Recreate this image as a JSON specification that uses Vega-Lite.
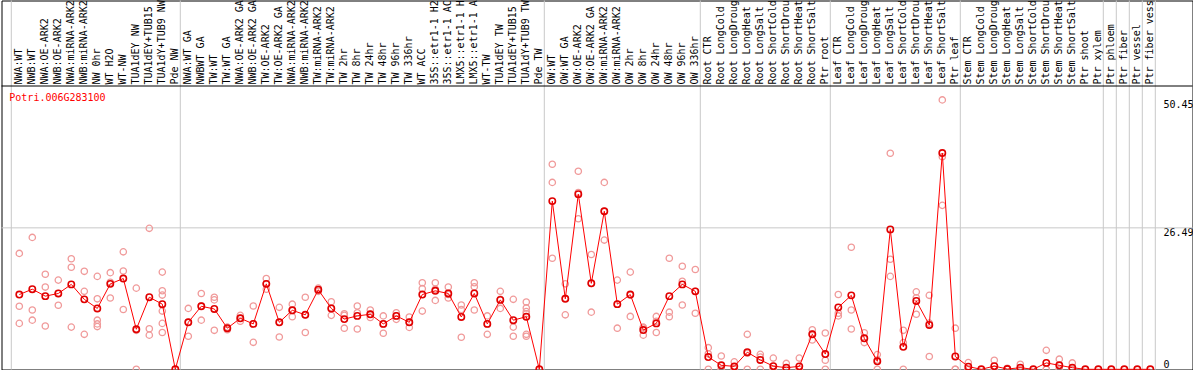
{
  "$schema": "https://vega.github.io/schema/vega-lite/v6.json",
  "width": 1191,
  "height": 369,
  "autosize": {"type": "none"},
  "padding": {"left": 1.5, "top": 0.5, "right": 0, "bottom": 0},
  "background": "white",
  "config": {"view": {"stroke": "black", "strokeWidth": 1}, "font": "DejaVu Sans Mono"},
  "title": {"text": "Potri.006G283100", "frame": "group", "anchor": "start", "orient": "top", "offset": -129.5, "dx": 7.8, "baseline": "alphabetic", "color": "#ff0000", "font": "DejaVu Sans Mono", "fontSize": 10, "fontWeight": "normal"},
  "datasets": {
    "groupEnds": [{"cat": "Pde NW"}, {"cat": "Pde TW"}, {"cat": "OW 336hr"}, {"cat": "Ptr root"}, {"cat": "Ptr leaf"}, {"cat": "Ptr xylem"}, {"cat": "Ptr phloem"}, {"cat": "Ptr fiber"}, {"cat": "Ptr vessel"}, {"cat": "Ptr fiber vessel"}],
    "groupStart": [{"cat": "NWA:WT"}],
    "means": [
      {"i": 1, "cat": "NWA:WT", "value": 14.0},
      {"i": 2, "cat": "NWB:WT", "value": 15.0},
      {"i": 3, "cat": "NWA:OE-ARK2", "value": 13.7},
      {"i": 4, "cat": "NWB:OE-ARK2", "value": 14.2},
      {"i": 5, "cat": "NWA:miRNA-ARK2", "value": 15.9},
      {"i": 6, "cat": "NWB:miRNA-ARK2", "value": 13.1},
      {"i": 7, "cat": "NW 0hr", "value": 11.4},
      {"i": 8, "cat": "WT H2O", "value": 16.0},
      {"i": 9, "cat": "WT-NW", "value": 17.0},
      {"i": 10, "cat": "TUA1dEY NW", "value": 7.5},
      {"i": 11, "cat": "TUA1dEY+TUB15 NW", "value": 13.5},
      {"i": 12, "cat": "TUA1dY+TUB9 NW", "value": 12.2},
      {"i": 13, "cat": "Pde NW", "value": 0},
      {"i": 14, "cat": "NWA:WT GA", "value": 8.8},
      {"i": 15, "cat": "NWBWT GA", "value": 11.8},
      {"i": 16, "cat": "TW:WT", "value": 11.3},
      {"i": 17, "cat": "TW:WT GA", "value": 7.7},
      {"i": 18, "cat": "NWA:OE-ARK2 GA", "value": 9.55},
      {"i": 19, "cat": "NWB:OE-ARK2 GA", "value": 8.5},
      {"i": 20, "cat": "TW:OE-ARK2", "value": 16.0},
      {"i": 21, "cat": "TW:OE-ARK2 GA", "value": 8.8},
      {"i": 22, "cat": "NWA:miRNA-ARK2 GA", "value": 11.05},
      {"i": 23, "cat": "NWB:miRNA-ARK2 GA", "value": 10.2},
      {"i": 24, "cat": "TW:miRNA-ARK2", "value": 14.9},
      {"i": 25, "cat": "TW:miRNA-ARK2 GA", "value": 11.4},
      {"i": 26, "cat": "TW 2hr", "value": 9.4},
      {"i": 27, "cat": "TW 8hr", "value": 10.0},
      {"i": 28, "cat": "TW 24hr", "value": 10.3},
      {"i": 29, "cat": "TW 48hr", "value": 8.5},
      {"i": 30, "cat": "TW 96hr", "value": 10.0},
      {"i": 31, "cat": "TW 336hr", "value": 8.8},
      {"i": 32, "cat": "WT ACC", "value": 14.0},
      {"i": 33, "cat": "35S::etr1-1 H2", "value": 14.7},
      {"i": 34, "cat": "35S::etr1-1 AC", "value": 14.2},
      {"i": 35, "cat": "LMX5::etr1-1 H", "value": 9.8},
      {"i": 36, "cat": "LMX5::etr1-1 A", "value": 14.2},
      {"i": 37, "cat": "WT-TW", "value": 8.5},
      {"i": 38, "cat": "TUA1dEY TW", "value": 13.0},
      {"i": 39, "cat": "TUA1dEY+TUB15 TW", "value": 9.2},
      {"i": 40, "cat": "TUA1dY+TUB9 TW", "value": 9.85},
      {"i": 41, "cat": "Pde TW", "value": 0},
      {"i": 42, "cat": "OW:WT", "value": 31.5},
      {"i": 43, "cat": "OW:WT GA", "value": 13.2},
      {"i": 44, "cat": "OW:OE-ARK2", "value": 32.8},
      {"i": 45, "cat": "OW:OE-ARK2 GA", "value": 16.1},
      {"i": 46, "cat": "OW:miRNA-ARK2", "value": 29.6},
      {"i": 47, "cat": "OW:miRNA-ARK2 GA", "value": 12.2},
      {"i": 48, "cat": "OW 2hr", "value": 14.0},
      {"i": 49, "cat": "OW 8hr", "value": 7.35},
      {"i": 50, "cat": "OW 24hr", "value": 8.6},
      {"i": 51, "cat": "OW 48hr", "value": 13.7},
      {"i": 52, "cat": "OW 96hr", "value": 15.9},
      {"i": 53, "cat": "OW 336hr", "value": 14.6},
      {"i": 54, "cat": "Root CTR", "value": 2.3},
      {"i": 55, "cat": "Root LongCold", "value": 0.75},
      {"i": 56, "cat": "Root LongDroug", "value": 0.55},
      {"i": 57, "cat": "Root LongHeat", "value": 3.2},
      {"i": 58, "cat": "Root LongSalt", "value": 1.75},
      {"i": 59, "cat": "Root ShortCold", "value": 0.6},
      {"i": 60, "cat": "Root ShortDrou", "value": 0.3},
      {"i": 61, "cat": "Root ShortHeat", "value": 0.55},
      {"i": 62, "cat": "Root ShortSalt", "value": 6.55},
      {"i": 63, "cat": "Ptr root", "value": 2.85},
      {"i": 64, "cat": "Leaf CTR", "value": 11.6},
      {"i": 65, "cat": "Leaf LongCold", "value": 13.85},
      {"i": 66, "cat": "Leaf LongDroug", "value": 5.8},
      {"i": 67, "cat": "Leaf LongHeat", "value": 1.5},
      {"i": 68, "cat": "Leaf LongSalt", "value": 26.2},
      {"i": 69, "cat": "Leaf ShortCold", "value": 4.2},
      {"i": 70, "cat": "Leaf ShortDrou", "value": 12.8},
      {"i": 71, "cat": "Leaf ShortHeat", "value": 8.3},
      {"i": 72, "cat": "Leaf ShortSalt", "value": 40.5},
      {"i": 73, "cat": "Ptr leaf", "value": 2.4},
      {"i": 74, "cat": "Stem CTR", "value": 0.5},
      {"i": 75, "cat": "Stem LongCold", "value": 0},
      {"i": 76, "cat": "Stem LongDroug", "value": 0.6},
      {"i": 77, "cat": "Stem LongHeat", "value": 0.05},
      {"i": 78, "cat": "Stem LongSalt", "value": 0.3},
      {"i": 79, "cat": "Stem ShortCold", "value": 0},
      {"i": 80, "cat": "Stem ShortDrou", "value": 1.2},
      {"i": 81, "cat": "Stem ShortHeat", "value": 0.75},
      {"i": 82, "cat": "Stem ShortSalt", "value": 0.3},
      {"i": 83, "cat": "Ptr shoot", "value": 0},
      {"i": 84, "cat": "Ptr xylem", "value": 0},
      {"i": 85, "cat": "Ptr phloem", "value": 0},
      {"i": 86, "cat": "Ptr fiber", "value": 0},
      {"i": 87, "cat": "Ptr vessel", "value": 0},
      {"i": 88, "cat": "Ptr fiber vessel", "value": 0}
    ],
    "reps": [
      {"cat": "NWA:WT", "value": 21.7}, {"cat": "NWA:WT", "value": 11.8}, {"cat": "NWA:WT", "value": 8.6},
      {"cat": "NWB:WT", "value": 24.7}, {"cat": "NWB:WT", "value": 11.1}, {"cat": "NWB:WT", "value": 9.2},
      {"cat": "NWA:OE-ARK2", "value": 17.8}, {"cat": "NWA:OE-ARK2", "value": 15.4}, {"cat": "NWA:OE-ARK2", "value": 8.1},
      {"cat": "NWB:OE-ARK2", "value": 16.7}, {"cat": "NWB:OE-ARK2", "value": 12.0}, {"cat": "NWB:OE-ARK2", "value": 14.2},
      {"cat": "NWA:miRNA-ARK2", "value": 20.7}, {"cat": "NWA:miRNA-ARK2", "value": 19.1}, {"cat": "NWA:miRNA-ARK2", "value": 7.9},
      {"cat": "NWB:miRNA-ARK2", "value": 18.35}, {"cat": "NWB:miRNA-ARK2", "value": 14.6}, {"cat": "NWB:miRNA-ARK2", "value": 6.55},
      {"cat": "NW 0hr", "value": 17.4}, {"cat": "NW 0hr", "value": 13.2}, {"cat": "NW 0hr", "value": 9.2}, {"cat": "NW 0hr", "value": 8.5}, {"cat": "NW 0hr", "value": 8.0},
      {"cat": "WT H2O", "value": 18.1}, {"cat": "WT H2O", "value": 16.3}, {"cat": "WT H2O", "value": 13.35},
      {"cat": "WT-NW", "value": 22.0}, {"cat": "WT-NW", "value": 18.4}, {"cat": "WT-NW", "value": 11.2},
      {"cat": "TUA1dEY NW", "value": 15.2}, {"cat": "TUA1dEY NW", "value": 7.3}, {"cat": "TUA1dEY NW", "value": 0},
      {"cat": "TUA1dEY+TUB15 NW", "value": 26.4}, {"cat": "TUA1dEY+TUB15 NW", "value": 7.6}, {"cat": "TUA1dEY+TUB15 NW", "value": 6.4},
      {"cat": "TUA1dY+TUB9 NW", "value": 18.2}, {"cat": "TUA1dY+TUB9 NW", "value": 14.7}, {"cat": "TUA1dY+TUB9 NW", "value": 13.9}, {"cat": "TUA1dY+TUB9 NW", "value": 10.9}, {"cat": "TUA1dY+TUB9 NW", "value": 8.6}, {"cat": "TUA1dY+TUB9 NW", "value": 6.9},
      {"cat": "NWA:WT GA", "value": 11.4}, {"cat": "NWA:WT GA", "value": 8.8}, {"cat": "NWA:WT GA", "value": 6.2},
      {"cat": "NWBWT GA", "value": 14.2}, {"cat": "NWBWT GA", "value": 11.9}, {"cat": "NWBWT GA", "value": 9.2},
      {"cat": "TW:WT", "value": 13.5}, {"cat": "TW:WT", "value": 13.0}, {"cat": "TW:WT", "value": 7.3},
      {"cat": "TW:WT GA", "value": 7.9}, {"cat": "TW:WT GA", "value": 7.7}, {"cat": "TW:WT GA", "value": 7.4},
      {"cat": "NWA:OE-ARK2 GA", "value": 10.1}, {"cat": "NWA:OE-ARK2 GA", "value": 9.55}, {"cat": "NWA:OE-ARK2 GA", "value": 9.0},
      {"cat": "NWB:OE-ARK2 GA", "value": 11.85}, {"cat": "NWB:OE-ARK2 GA", "value": 8.5}, {"cat": "NWB:OE-ARK2 GA", "value": 5.05},
      {"cat": "TW:OE-ARK2", "value": 17.0}, {"cat": "TW:OE-ARK2", "value": 16.0}, {"cat": "TW:OE-ARK2", "value": 15.0},
      {"cat": "TW:OE-ARK2 GA", "value": 11.6}, {"cat": "TW:OE-ARK2 GA", "value": 8.8}, {"cat": "TW:OE-ARK2 GA", "value": 6.05},
      {"cat": "NWA:miRNA-ARK2 GA", "value": 12.2}, {"cat": "NWA:miRNA-ARK2 GA", "value": 11.05}, {"cat": "NWA:miRNA-ARK2 GA", "value": 9.85},
      {"cat": "NWB:miRNA-ARK2 GA", "value": 13.5}, {"cat": "NWB:miRNA-ARK2 GA", "value": 10.2}, {"cat": "NWB:miRNA-ARK2 GA", "value": 6.9},
      {"cat": "TW:miRNA-ARK2", "value": 15.2}, {"cat": "TW:miRNA-ARK2", "value": 14.9}, {"cat": "TW:miRNA-ARK2", "value": 14.6},
      {"cat": "TW:miRNA-ARK2 GA", "value": 12.65}, {"cat": "TW:miRNA-ARK2 GA", "value": 11.4}, {"cat": "TW:miRNA-ARK2 GA", "value": 10.1},
      {"cat": "TW 2hr", "value": 10.4}, {"cat": "TW 2hr", "value": 10.1}, {"cat": "TW 2hr", "value": 7.7},
      {"cat": "TW 8hr", "value": 11.85}, {"cat": "TW 8hr", "value": 10.6}, {"cat": "TW 8hr", "value": 7.55},
      {"cat": "TW 24hr", "value": 11.1}, {"cat": "TW 24hr", "value": 10.3}, {"cat": "TW 24hr", "value": 9.7},
      {"cat": "TW 48hr", "value": 10.0}, {"cat": "TW 48hr", "value": 8.5}, {"cat": "TW 48hr", "value": 6.75},
      {"cat": "TW 96hr", "value": 10.6}, {"cat": "TW 96hr", "value": 10.0}, {"cat": "TW 96hr", "value": 9.35},
      {"cat": "TW 336hr", "value": 9.8}, {"cat": "TW 336hr", "value": 8.8}, {"cat": "TW 336hr", "value": 7.85},
      {"cat": "WT ACC", "value": 16.2}, {"cat": "WT ACC", "value": 15.1}, {"cat": "WT ACC", "value": 10.9},
      {"cat": "35S::etr1-1 H2", "value": 16.2}, {"cat": "35S::etr1-1 H2", "value": 15.0}, {"cat": "35S::etr1-1 H2", "value": 12.9},
      {"cat": "35S::etr1-1 AC", "value": 15.4}, {"cat": "35S::etr1-1 AC", "value": 14.0}, {"cat": "35S::etr1-1 AC", "value": 13.35},
      {"cat": "LMX5::etr1-1 H", "value": 12.05}, {"cat": "LMX5::etr1-1 H", "value": 11.2}, {"cat": "LMX5::etr1-1 H", "value": 6.0},
      {"cat": "LMX5::etr1-1 A", "value": 16.2}, {"cat": "LMX5::etr1-1 A", "value": 15.45}, {"cat": "LMX5::etr1-1 A", "value": 11.1},
      {"cat": "WT-TW", "value": 10.0}, {"cat": "WT-TW", "value": 8.5}, {"cat": "WT-TW", "value": 6.55},
      {"cat": "TUA1dEY TW", "value": 14.6}, {"cat": "TUA1dEY TW", "value": 13.1}, {"cat": "TUA1dEY TW", "value": 11.4},
      {"cat": "TUA1dEY+TUB15 TW", "value": 13.1}, {"cat": "TUA1dEY+TUB15 TW", "value": 7.9}, {"cat": "TUA1dEY+TUB15 TW", "value": 6.2},
      {"cat": "TUA1dY+TUB9 TW", "value": 12.6}, {"cat": "TUA1dY+TUB9 TW", "value": 11.5}, {"cat": "TUA1dY+TUB9 TW", "value": 10.8}, {"cat": "TUA1dY+TUB9 TW", "value": 10.4}, {"cat": "TUA1dY+TUB9 TW", "value": 6.55}, {"cat": "TUA1dY+TUB9 TW", "value": 6.2},
      {"cat": "OW:WT", "value": 38.4}, {"cat": "OW:WT", "value": 35.0}, {"cat": "OW:WT", "value": 20.8},
      {"cat": "OW:WT GA", "value": 16.0}, {"cat": "OW:WT GA", "value": 13.3}, {"cat": "OW:WT GA", "value": 10.2},
      {"cat": "OW:OE-ARK2", "value": 37.1}, {"cat": "OW:OE-ARK2", "value": 33.1}, {"cat": "OW:OE-ARK2", "value": 28.2},
      {"cat": "OW:OE-ARK2 GA", "value": 21.5}, {"cat": "OW:OE-ARK2 GA", "value": 16.1}, {"cat": "OW:OE-ARK2 GA", "value": 10.7},
      {"cat": "OW:miRNA-ARK2", "value": 35.0}, {"cat": "OW:miRNA-ARK2", "value": 29.6}, {"cat": "OW:miRNA-ARK2", "value": 24.2},
      {"cat": "OW:miRNA-ARK2 GA", "value": 16.7}, {"cat": "OW:miRNA-ARK2 GA", "value": 12.2}, {"cat": "OW:miRNA-ARK2 GA", "value": 7.7},
      {"cat": "OW 2hr", "value": 18.2}, {"cat": "OW 2hr", "value": 13.9}, {"cat": "OW 2hr", "value": 9.9},
      {"cat": "OW 8hr", "value": 7.9}, {"cat": "OW 8hr", "value": 7.75}, {"cat": "OW 8hr", "value": 6.4},
      {"cat": "OW 24hr", "value": 9.9}, {"cat": "OW 24hr", "value": 9.0}, {"cat": "OW 24hr", "value": 6.9},
      {"cat": "OW 48hr", "value": 20.8}, {"cat": "OW 48hr", "value": 10.7}, {"cat": "OW 48hr", "value": 9.85},
      {"cat": "OW 96hr", "value": 19.3}, {"cat": "OW 96hr", "value": 16.5}, {"cat": "OW 96hr", "value": 12.05},
      {"cat": "OW 336hr", "value": 18.7}, {"cat": "OW 336hr", "value": 14.6}, {"cat": "OW 336hr", "value": 10.5},
      {"cat": "Root CTR", "value": 4.05}, {"cat": "Root CTR", "value": 2.9}, {"cat": "Root CTR", "value": 0},
      {"cat": "Root LongCold", "value": 2.5}, {"cat": "Root LongCold", "value": 0}, {"cat": "Root LongCold", "value": 0},
      {"cat": "Root LongDroug", "value": 1.4}, {"cat": "Root LongDroug", "value": 0.2}, {"cat": "Root LongDroug", "value": 0},
      {"cat": "Root LongHeat", "value": 6.55}, {"cat": "Root LongHeat", "value": 3.0}, {"cat": "Root LongHeat", "value": 0},
      {"cat": "Root LongSalt", "value": 2.8}, {"cat": "Root LongSalt", "value": 2.3}, {"cat": "Root LongSalt", "value": 0},
      {"cat": "Root ShortCold", "value": 2.1}, {"cat": "Root ShortCold", "value": 0}, {"cat": "Root ShortCold", "value": 0},
      {"cat": "Root ShortDrou", "value": 1.1}, {"cat": "Root ShortDrou", "value": 0}, {"cat": "Root ShortDrou", "value": 0},
      {"cat": "Root ShortHeat", "value": 2.1}, {"cat": "Root ShortHeat", "value": 0}, {"cat": "Root ShortHeat", "value": 0},
      {"cat": "Root ShortSalt", "value": 7.4}, {"cat": "Root ShortSalt", "value": 6.6}, {"cat": "Root ShortSalt", "value": 5.5},
      {"cat": "Ptr root", "value": 6.8}, {"cat": "Ptr root", "value": 1.7}, {"cat": "Ptr root", "value": 0},
      {"cat": "Leaf CTR", "value": 14.0}, {"cat": "Leaf CTR", "value": 10.5}, {"cat": "Leaf CTR", "value": 10.0},
      {"cat": "Leaf LongCold", "value": 22.85}, {"cat": "Leaf LongCold", "value": 11.1}, {"cat": "Leaf LongCold", "value": 7.55},
      {"cat": "Leaf LongDroug", "value": 6.85}, {"cat": "Leaf LongDroug", "value": 5.8}, {"cat": "Leaf LongDroug", "value": 5.0},
      {"cat": "Leaf LongHeat", "value": 2.75}, {"cat": "Leaf LongHeat", "value": 1.75}, {"cat": "Leaf LongHeat", "value": 0},
      {"cat": "Leaf LongSalt", "value": 40.45}, {"cat": "Leaf LongSalt", "value": 20.6}, {"cat": "Leaf LongSalt", "value": 17.4},
      {"cat": "Leaf ShortCold", "value": 7.3}, {"cat": "Leaf ShortCold", "value": 5.0}, {"cat": "Leaf ShortCold", "value": 0},
      {"cat": "Leaf ShortDrou", "value": 14.5}, {"cat": "Leaf ShortDrou", "value": 13.4}, {"cat": "Leaf ShortDrou", "value": 10.3},
      {"cat": "Leaf ShortHeat", "value": 13.85}, {"cat": "Leaf ShortHeat", "value": 8.65}, {"cat": "Leaf ShortHeat", "value": 2.4},
      {"cat": "Leaf ShortSalt", "value": 50.45}, {"cat": "Leaf ShortSalt", "value": 39.8}, {"cat": "Leaf ShortSalt", "value": 30.7},
      {"cat": "Ptr leaf", "value": 7.7}, {"cat": "Ptr leaf", "value": 0}, {"cat": "Ptr leaf", "value": 0},
      {"cat": "Stem CTR", "value": 1.25}, {"cat": "Stem CTR", "value": 0}, {"cat": "Stem CTR", "value": 0},
      {"cat": "Stem LongDroug", "value": 1.7}, {"cat": "Stem LongDroug", "value": 0}, {"cat": "Stem LongDroug", "value": 0},
      {"cat": "Stem LongHeat", "value": 0.2}, {"cat": "Stem LongHeat", "value": 0},
      {"cat": "Stem LongSalt", "value": 0.95}, {"cat": "Stem LongSalt", "value": 0}, {"cat": "Stem LongSalt", "value": 0},
      {"cat": "Stem ShortDrou", "value": 3.55}, {"cat": "Stem ShortDrou", "value": 0}, {"cat": "Stem ShortDrou", "value": 0},
      {"cat": "Stem ShortHeat", "value": 1.9}, {"cat": "Stem ShortHeat", "value": 0}, {"cat": "Stem ShortHeat", "value": 0},
      {"cat": "Stem ShortSalt", "value": 1.2}, {"cat": "Stem ShortSalt", "value": 0}, {"cat": "Stem ShortSalt", "value": 0}
    ]
  },
  "layer": [
    {
      "data": {"name": "groupEnds"},
      "mark": {"type": "rule", "xOffset": 5, "color": "#c8c8c8", "strokeWidth": 1},
      "encoding": {
        "x": {
          "field": "cat", "type": "ordinal",
          "scale": {
            "type": "band", "paddingInner": 0, "paddingOuter": 0, "range": [11.3, 1155.3],
            "domain": ["NWA:WT","NWB:WT","NWA:OE-ARK2","NWB:OE-ARK2","NWA:miRNA-ARK2","NWB:miRNA-ARK2","NW 0hr","WT H2O","WT-NW","TUA1dEY NW","TUA1dEY+TUB15 NW","TUA1dY+TUB9 NW","Pde NW","NWA:WT GA","NWBWT GA","TW:WT","TW:WT GA","NWA:OE-ARK2 GA","NWB:OE-ARK2 GA","TW:OE-ARK2","TW:OE-ARK2 GA","NWA:miRNA-ARK2 GA","NWB:miRNA-ARK2 GA","TW:miRNA-ARK2","TW:miRNA-ARK2 GA","TW 2hr","TW 8hr","TW 24hr","TW 48hr","TW 96hr","TW 336hr","WT ACC","35S::etr1-1 H2","35S::etr1-1 AC","LMX5::etr1-1 H","LMX5::etr1-1 A","WT-TW","TUA1dEY TW","TUA1dEY+TUB15 TW","TUA1dY+TUB9 TW","Pde TW","OW:WT","OW:WT GA","OW:OE-ARK2","OW:OE-ARK2 GA","OW:miRNA-ARK2","OW:miRNA-ARK2 GA","OW 2hr","OW 8hr","OW 24hr","OW 48hr","OW 96hr","OW 336hr","Root CTR","Root LongCold","Root LongDroug","Root LongHeat","Root LongSalt","Root ShortCold","Root ShortDrou","Root ShortHeat","Root ShortSalt","Ptr root","Leaf CTR","Leaf LongCold","Leaf LongDroug","Leaf LongHeat","Leaf LongSalt","Leaf ShortCold","Leaf ShortDrou","Leaf ShortHeat","Leaf ShortSalt","Ptr leaf","Stem CTR","Stem LongCold","Stem LongDroug","Stem LongHeat","Stem LongSalt","Stem ShortCold","Stem ShortDrou","Stem ShortHeat","Stem ShortSalt","Ptr shoot","Ptr xylem","Ptr phloem","Ptr fiber","Ptr vessel","Ptr fiber vessel"]
          },
          "axis": {
            "orient": "top", "offset": -83.5, "title": null,
            "labelAngle": 270, "labelAlign": "left", "labelBaseline": "middle", "labelPadding": 0,
            "ticks": false, "domain": false, "grid": false,
            "labelOverlap": false, "labelFlush": false, "labelBound": false, "labelLimit": 300,
            "labelFont": "DejaVu Sans Mono", "labelFontSize": 10, "labelColor": "black"
          }
        }
      }
    },
    {
      "data": {"name": "groupStart"},
      "mark": {"type": "rule", "xOffset": -8, "color": "#c8c8c8", "strokeWidth": 1},
      "encoding": {"x": {"field": "cat", "type": "ordinal"}}
    },
    {
      "data": {"values": [{}]},
      "mark": {"type": "rule", "color": "#c8c8c8", "strokeWidth": 1},
      "encoding": {
        "y": {
          "datum": 26.49, "type": "quantitative",
          "scale": {"domain": [-0.037, 69.064], "nice": false, "zero": false},
          "axis": {
            "orient": "right", "title": null, "values": [0, 26.49, 50.45],
            "labelExpr": "datum.value == 0 ? '0' : format(datum.value, '.2f')",
            "ticks": false, "domain": false, "grid": false,
            "labelPadding": -29.5, "labelAlign": "left",
            "labelBaseline": {"condition": {"test": "datum.value == 0", "value": "bottom"}, "value": "top"},
            "labelFont": "DejaVu Sans Mono", "labelFontSize": 10, "labelColor": "black"
          }
        }
      }
    },
    {
      "data": {"values": [{}]},
      "mark": {"type": "rule", "color": "black", "strokeWidth": 1},
      "encoding": {"y": {"datum": 53.05, "type": "quantitative"}}
    },
    {
      "data": {"name": "reps"},
      "mark": {"type": "point", "shape": "circle", "filled": false, "stroke": "#f09a9a", "strokeWidth": 1.3, "size": 40, "opacity": 1},
      "encoding": {
        "x": {"field": "cat", "type": "ordinal"},
        "y": {"field": "value", "type": "quantitative"}
      }
    },
    {
      "data": {"name": "means"},
      "mark": {"type": "line", "color": "#ff0000", "strokeWidth": 1},
      "encoding": {
        "x": {"field": "cat", "type": "ordinal"},
        "y": {"field": "value", "type": "quantitative"},
        "order": {"field": "i", "type": "quantitative"}
      }
    },
    {
      "data": {"name": "means"},
      "mark": {"type": "point", "shape": "circle", "filled": false, "stroke": "#e00000", "strokeWidth": 1.6, "size": 40, "opacity": 1},
      "encoding": {
        "x": {"field": "cat", "type": "ordinal"},
        "y": {"field": "value", "type": "quantitative"}
      }
    }
  ]
}
